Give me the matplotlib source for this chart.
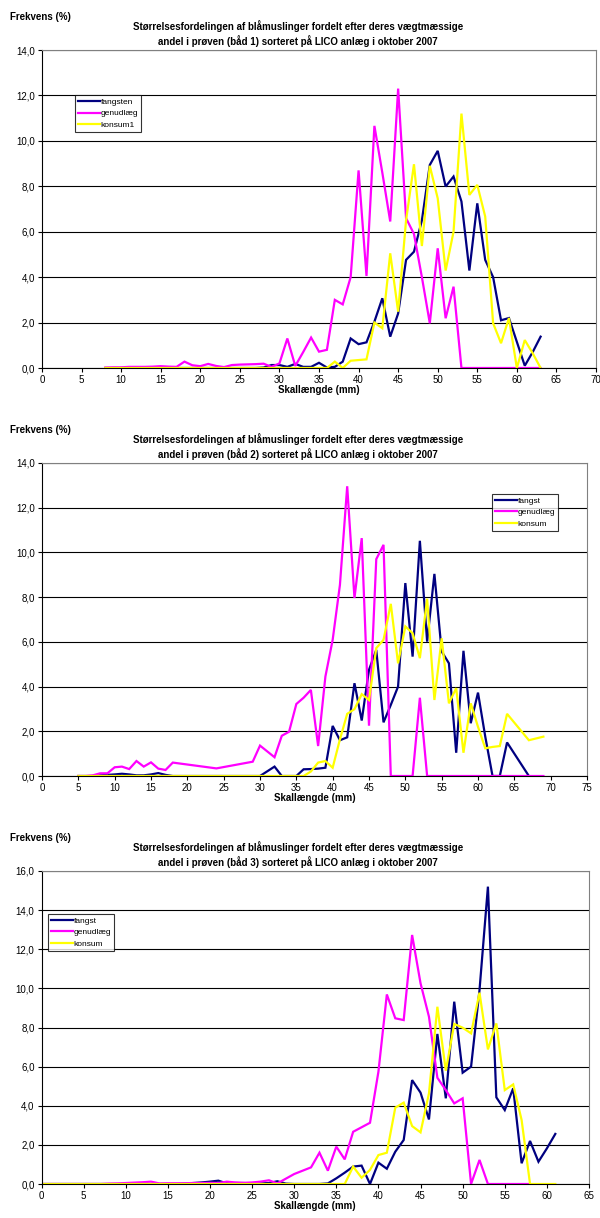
import numpy as np
import matplotlib.pyplot as plt
from matplotlib.ticker import FuncFormatter, MultipleLocator

plt.rcParams['font.family'] = ['Liberation Sans', 'DejaVu Sans']

# --- data (mm, %) ---
x1 = list(range(8, 64))
fangsten1 = [0, 0, 0, 0, 0, 0, 0, 0, 0, 0, 0, 0, 0, 0, 0, 0, 0, 0, 0, 0, 0.02,
             0.13, 0.13, 0.05, 0.18, 0.05, 0.05, 0.23, 0.02, 0.05, 0.28, 1.3, 1.05,
             1.13, 2.04, 3.07, 1.38, 2.4, 4.76, 5.12, 6.5, 8.94, 9.56, 7.99, 8.43,
             7.33, 4.29, 7.25, 4.76, 4.0, 2.1, 2.2, 1.15, 0.1, 0.7, 1.38]
genudlaeg1 = [0.02, 0.03, 0.03, 0.05, 0.05, 0.05, 0.06, 0.08, 0.06, 0.05, 0.28,
              0.12, 0.08, 0.18, 0.09, 0.04, 0.13, 0.15, 0.16, 0.17, 0.19, 0.05,
              0.2, 1.3, 0.09, 0.7, 1.34, 0.72, 0.8, 3.0, 2.8, 4.0, 8.7, 4.05,
              10.66, 8.6, 6.45, 12.3, 6.6, 5.9, 4.0, 1.97, 5.27, 2.19, 3.58,
              0, 0, 0, 0, 0, 0, 0, 0, 0, 0, 0]
konsum1 = [0, 0, 0, 0, 0, 0, 0, 0, 0, 0, 0, 0, 0, 0, 0, 0, 0, 0, 0, 0, 0, 0, 0,
           0, 0, 0, 0, 0, 0, 0.28, 0, 0.32, 0.35, 0.38, 2.0, 1.75, 5.05, 2.48,
           6.5, 8.97, 5.37, 8.9, 7.47, 4.29, 6.0, 11.2, 7.62, 8.06, 6.67, 1.97,
           1.09, 2.2, 0, 1.23, 0.65, 0]

x2 = list(range(5, 19)) + [24, 29, 30] + list(range(32, 65)) + [67, 69]
fangst2 = [0, 0, 0, 0.03, 0.05, 0.07, 0.1, 0.07, 0.03, 0.03, 0.07, 0.13, 0.05,
           0, 0, 0, 0, 0.42, 0, 0, 0, 0.3, 0.31, 0.33, 0.37, 2.24, 1.6, 1.73,
           4.15, 2.48, 4.75, 5.64, 2.4, 3.18, 4.0, 8.63, 5.34, 10.52, 6.01, 9.04,
           5.57, 5.04, 1.04, 5.6, 2.36, 3.73, 1.76, 0, 0, 1.5, 0]
genudlaeg2 = [0, 0, 0.03, 0.12, 0.12, 0.39, 0.42, 0.31, 0.67, 0.42, 0.61, 0.33,
              0.27, 0.6, 0.34, 0.64, 1.36, 0.84, 1.8, 1.98, 3.22, 3.5, 3.85,
              1.34, 4.45, 6.09, 8.55, 12.96, 7.96, 10.64, 2.25, 9.7, 10.34, 0, 0,
              0, 0, 3.5, 0, 0, 0, 0, 0, 0, 0, 0, 0, 0, 0, 0, 0, 0]
konsum2 = [0, 0, 0, 0, 0, 0, 0, 0, 0, 0, 0, 0, 0, 0, 0, 0, 0, 0, 0, 0, 0, 0,
           0.2, 0.6, 0.67, 0.37, 1.64, 2.78, 2.99, 3.66, 3.4, 5.72, 6.09, 7.7,
           5.04, 6.69, 6.39, 5.27, 7.93, 3.4, 6.16, 3.25, 3.93, 1.04, 3.25, 2.2,
           1.24, 1.3, 1.34, 2.78, 1.6, 1.76]

x3 = list(range(0, 62))
fangst3 = [0] * 17 + [0.02, 0.05, 0.08, 0.12, 0.17, 0.03, 0.05, 0.05, 0.03,
                      0.03, 0.05, 0.14, 0.02, 0, 0, 0, 0, 0.03, 0.29, 0.58,
                      0.89, 0.94, 0, 1.09, 0.78, 1.65, 2.25, 5.31, 4.67, 3.3,
                      7.67, 4.38, 9.32, 5.69, 6.0, 9.91, 15.2, 4.43, 3.78, 4.89,
                      1.06, 2.2, 1.14, 1.82, 2.56]
genudlaeg3 = [0] * 8 + [0.02, 0.03, 0.05, 0.07, 0.09, 0.12, 0.03, 0.04, 0.04,
                        0.04, 0.05, 0.05, 0.06, 0.05, 0.12, 0.08, 0.06, 0.08,
                        0.12, 0.19, 0.03, 0.27, 0.51, 0.68, 0.85, 1.6, 0.68,
                        1.91, 1.26, 2.67, 2.9, 3.13, 5.74, 9.69, 8.47, 8.38,
                        12.73, 10.26, 8.55, 5.43, 4.8, 4.12, 4.38, 0, 1.23, 0,
                        0, 0, 0, 0, 0]
konsum3 = [0] * 37 + [0.89, 0.32, 0.72, 1.48, 1.6, 3.9, 4.16, 2.96, 2.64, 4.63,
                      9.06, 5.79, 8.18, 7.99, 7.7, 9.78, 6.88, 8.21, 4.8, 5.09,
                      3.27, 0, 0, 0, 0]

titles = ["Størrelsesfordelingen af blåmuslinger fordelt efter deres vægtmæssige\n"
          "andel i prøven (båd %d) sorteret på LICO anlæg i oktober 2007" % i
          for i in (1, 2, 3)]
labels = [["fangsten", "genudlæg", "konsum1"],
          ["fangst", "genudlæg", "konsum"],
          ["fangst", "genudlæg", "konsum"]]

W, H = 600, 1218
fig = plt.figure(figsize=(W / 100, H / 100), dpi=100)
fig.patch.set_facecolor('white')

# pixel boxes: left, right, top, bottom
boxes = [(42, 596, 50, 368), (42, 587, 463, 776), (41.5, 589, 871, 1184)]
xmax = [70, 75, 65]
ymax = [14, 14, 16]
legpos = [(0.06, 0.858), (0.826, 0.901), (0.012, 0.863)]
series = [(x1, fangsten1, genudlaeg1, konsum1),
          (x2, fangst2, genudlaeg2, konsum2),
          (x3, fangst3, genudlaeg3, konsum3)]
colors = ['#000080', '#ff00ff', '#ffff00']

fmt = FuncFormatter(lambda v, p: ("%.1f" % v).replace('.', ','))

for i in range(3):
    l, r, t, b = boxes[i]
    ax = fig.add_axes([l / W, 1 - b / H, (r - l) / W, (b - t) / H])
    xs, f, g, k = series[i]
    for ys, c, lab in zip((f, g, k), colors, labels[i]):
        ax.plot(xs[:len(ys)], ys, color=c, lw=1.6, label=lab,
                solid_joinstyle='miter')
    ax.set_xlim(0, xmax[i])
    ax.set_ylim(0, ymax[i])
    ax.xaxis.set_major_locator(MultipleLocator(5))
    ax.yaxis.set_major_locator(MultipleLocator(2))
    ax.yaxis.set_major_formatter(fmt)
    ax.grid(axis='y', color='black', lw=0.8)
    ax.set_axisbelow(True)
    for s in ('top', 'right'):
        ax.spines[s].set_color('#808080')
        ax.spines[s].set_linewidth(0.8)
    for s in ('left', 'bottom'):
        ax.spines[s].set_color('black')
        ax.spines[s].set_linewidth(0.8)
    ax.tick_params(labelsize=7, length=3, width=0.8, pad=2)
    ax.set_xlabel("Skallængde (mm)", fontsize=7, fontweight='bold', labelpad=0)
    leg = ax.legend(loc='upper left', bbox_to_anchor=legpos[i], fontsize=6,
                    frameon=True, fancybox=False, handlelength=2.6,
                    handletextpad=0.1, borderpad=0.35, labelspacing=0.45,
                    borderaxespad=0)
    leg.get_frame().set_edgecolor('black')
    leg.get_frame().set_linewidth(0.8)
    fig.text(10 / W, 1 - (t - 33) / H, "Frekvens (%)", fontsize=7,
             fontweight='bold', va='center', ha='left')
    fig.text(298 / W, 1 - (t - 16.5) / H, titles[i], fontsize=7,
             fontweight='bold', ha='center', va='center', linespacing=1.25)

fig.savefig("out.png", dpi=100)
